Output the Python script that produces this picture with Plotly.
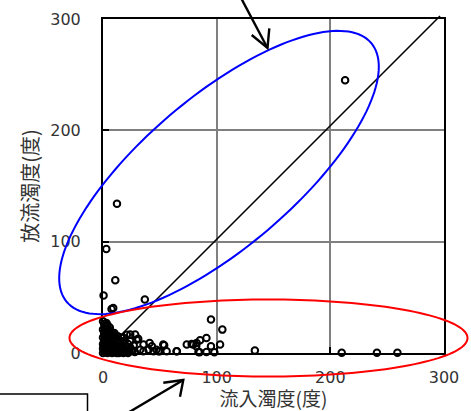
import numpy as np
import plotly.graph_objects as go

# Inflow turbidity (x) vs. outflow turbidity (y), both in degrees
inflow = [
    213, 12.3, 2.9, 10.8, 0.5, 36.8, 7.5, 9.0, 95, 105,
    91, 103, 95, 85.4, 82.4, 79.5, 73.7, 84, 91, 98,
    133.6, 65, 53, 56, 48.8, 43, 44.4, 210, 241, 259,
    78, 82, 53.8, 41, 31, 24, 28.3, 0, 2, 6.4,
    9.3, 10.8, 35.6, 24, 18, 47, 40, 32.7, 25, 21,
    29.6, 50, 35.5, 85, 64.7,
    0, 1, 0, 2, 1, 3, 0, 2, 4, 1, 3, 5, 0, 2, 4, 6, 1, 3, 5, 7,
    0, 2, 4, 6, 8, 1, 7, 9, 5, 8, 10, 11, 3, 12, 9, 13, 6, 14, 11, 15,
    16, 10, 12, 17, 18, 13, 19, 20, 15, 21, 22, 23, 16, 19, 24, 26, 27, 14, 8, 4,
    18, 22, 28, 6, 10, 2, 7, 12, 3, 5, 9, 11, 13, 15, 17, 20,
]
outflow = [
    245, 134, 93.5, 65.4, 51.6, 48, 39.5, 40.5, 30, 21,
    13.5, 7.6, 6, 11.5, 9, 7.6, 7.6, 1, 1, 0.7,
    2.2, 1.6, 7.6, 1.6, 1.6, 6, 1.6, 0.3, 0.3, 0.3,
    8, 6, 7, 9, 12.7, 16.6, 16.6, 28.5, 24, 19.6,
    16.6, 13.6, 7.6, 10.6, 13.6, 3, 3, 3, 3, 16.5,
    12, 1.6, 1.6, 0.7, 1.6,
    0, 2, 4, 1, 6, 3, 8, 9, 5, 11, 12, 8, 14, 15, 17, 11, 18, 20, 14, 6,
    21, 22, 25, 18, 9, 26, 14, 4, 21, 17, 11, 7, 27, 3, 12, 9, 23, 5, 14, 2,
    7, 18, 12, 4, 9, 15, 2, 6, 11, 3, 8, 1, 14, 11, 5, 2, 7, 0, 0, 0,
    0, 0, 1, 2, 1, 5, 1, 0, 8, 3, 7, 2, 6, 4, 1, 3,
]

ticks = [0, 100, 200, 300]
tick_text = ["0", "100", "200", "300"]

W, H = 471, 411
L, T, PW, PH = 103, 19, 341, 334


def paper(px, py):
    return (px - L) / PW, (T + PH - py) / PH


def ellipse_path(cx, cy, a, b, theta_deg, n=160):
    th = np.radians(theta_deg)
    t = np.linspace(0, 2 * np.pi, n, endpoint=False)
    xs = cx + a * np.cos(t) * np.cos(th) - b * np.sin(t) * np.sin(th)
    ys = cy - (a * np.cos(t) * np.sin(th) + b * np.sin(t) * np.cos(th))
    pts = [paper(x, y) for x, y in zip(xs, ys)]
    return "M " + " L ".join(f"{x:.5f},{y:.5f}" for x, y in pts) + " Z"


def polyline(points):
    pts = [paper(x, y) for x, y in points]
    return "M " + " L ".join(f"{x:.5f},{y:.5f}" for x, y in pts)


fig = go.Figure()
fig.add_trace(go.Scatter(
    x=inflow, y=outflow, mode="markers",
    marker=dict(symbol="circle-open", size=6.5, color="black",
                line=dict(color="black", width=2)),
    cliponaxis=False, showlegend=False,
))

shapes = [
    # 1:1 reference line
    dict(type="line", xref="paper", yref="paper",
         x0=0, y0=0, x1=paper(440, 16)[0], y1=paper(440, 16)[1],
         line=dict(color="black", width=1.6)),
    # blue ellipse around high-outflow points
    dict(type="path", xref="paper", yref="paper",
         path=ellipse_path(219, 172.5, 199.8, 75.4, 40.4),
         line=dict(color="#0000FF", width=2)),
    # red ellipse around low-outflow points
    dict(type="path", xref="paper", yref="paper",
         path=ellipse_path(268.5, 338, 199, 38.5, 0),
         line=dict(color="#FF0000", width=2)),
    # top arrow
    dict(type="path", xref="paper", yref="paper",
         path=polyline([(240, -4), (267.5, 48)]),
         line=dict(color="black", width=2.4)),
    dict(type="path", xref="paper", yref="paper",
         path=polyline([(251.7, 35), (267.5, 48), (269.3, 28.3)]),
         line=dict(color="black", width=2.4)),
    # bottom arrow
    dict(type="path", xref="paper", yref="paper",
         path=polyline([(126, 414), (183.3, 380)]),
         line=dict(color="black", width=2.4)),
    dict(type="path", xref="paper", yref="paper",
         path=polyline([(163.3, 382.7), (183.3, 380), (180, 396.7)]),
         line=dict(color="black", width=2.4)),
    # label box at lower left
    dict(type="rect", xref="paper", yref="paper",
         x0=paper(-5, 0)[0], x1=paper(87.5, 0)[0],
         y0=paper(0, 394)[1], y1=paper(0, 420)[1],
         line=dict(color="black", width=1.5), fillcolor="white"),
]

axis_common = dict(
    range=[0, 300], tickvals=ticks, ticktext=tick_text,
    showgrid=True, gridcolor="#808080", gridwidth=1.5,
    zeroline=False, showline=True, mirror=True,
    linecolor="black", linewidth=2,
    ticks="inside", ticklen=6, tickwidth=1.5, tickcolor="black",
    tickfont=dict(family="DejaVu Sans", size=16, color="#333333"),
    fixedrange=True, automargin=False,
)

fig.update_layout(
    width=W, height=H,
    margin=dict(l=L, r=W - L - PW, t=T, b=H - T - PH, pad=0, autoexpand=False),
    paper_bgcolor="white", plot_bgcolor="white",
    shapes=shapes,
    xaxis=dict(**axis_common, ticklabelstandoff=9,
               title=dict(text="流入濁度(度)", standoff=3,
                          font=dict(family="Noto Sans CJK JP", size=19, color="#333333"))),
    yaxis=dict(**axis_common, ticklabelstandoff=17,
               title=dict(text="放流濁度(度)", standoff=6,
                          font=dict(family="Noto Sans CJK JP", size=20, color="#333333"))),
)

fig.write_html("out.html")
